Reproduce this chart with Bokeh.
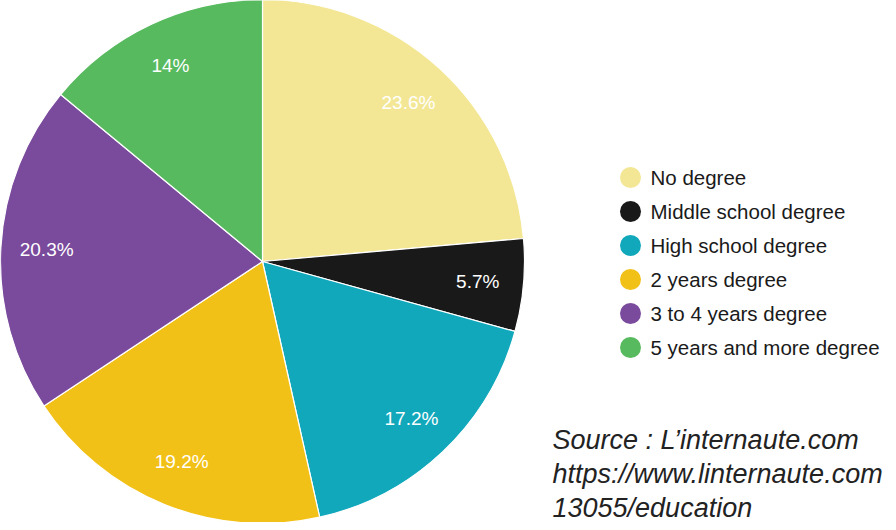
import numpy as np
from bokeh.plotting import figure
from bokeh.models import Range1d, ColumnDataSource
from bokeh.core.properties import value
from bokeh.embed import file_html
from bokeh.resources import INLINE

categories = ["No degree", "Middle school degree", "High school degree",
              "2 years degree", "3 to 4 years degree", "5 years and more degree"]
percentages = [23.6, 5.7, 17.2, 19.2, 20.3, 14.0]
labels = ["23.6%", "5.7%", "17.2%", "19.2%", "20.3%", "14%"]
colors = ["#F3E796", "#191919", "#12A8BC", "#F2C118", "#7A4A9C", "#58BA5F"]
source_lines = ["Source : L\u2019internaute.com",
                "https://www.linternaute.com",
                "13055/education"]

W, H = 888, 522
p = figure(width=W, height=H, output_backend="svg", toolbar_location=None,
           x_range=Range1d(0, W), y_range=Range1d(0, H), min_border=0)
p.axis.visible = False
p.grid.visible = False
p.outline_line_color = None
p.background_fill_color = "white"

cx, cy, R = 262, 261, 262
vals = np.array(percentages)
cum = np.cumsum(vals) / vals.sum()
cum0 = np.concatenate([[0], cum[:-1]])
start = np.pi / 2 - cum * 2 * np.pi
end = np.pi / 2 - cum0 * 2 * np.pi
mid = (start + end) / 2
lr = 0.825 * R

src = ColumnDataSource(dict(start=start, end=end, color=colors, cat=categories,
                            lx=cx + lr * np.cos(mid), ly=cy + lr * np.sin(mid),
                            lab=labels))
p.wedge(x=cx, y=cy, radius=R, start_angle="start", end_angle="end",
        fill_color="color", line_color="white", line_width=1.2, source=src)
p.text(x="lx", y="ly", text="lab", source=src, text_color="white",
       text_font=value("Liberation Sans"), text_font_size="19px",
       text_align="center", text_baseline="middle")

# legend
ly0 = 530 - 185
step = 34
leg = ColumnDataSource(dict(x=[630] * 6, y=[ly0 - i * step for i in range(6)],
                            tx=[650] * 6, color=colors, cat=categories))
p.scatter(x="x", y="y", size=21, fill_color="color", line_color=None, source=leg)
p.text(x="tx", y="y", text="cat", source=leg, text_color="#1a1a1a",
       text_font=value("Liberation Sans"), text_font_size="20.5px",
       text_baseline="middle")

srcs = ColumnDataSource(dict(x=[552] * 3, y=[530 - 447 - i * 34 for i in range(3)],
                             t=source_lines))
p.text(x="x", y="y", text="t", source=srcs, text_color="#222222",
       text_font=value("Liberation Sans"), text_font_size="27px",
       text_font_style="italic", text_baseline="middle")

open("out.html", "w").write(file_html(p, INLINE))
